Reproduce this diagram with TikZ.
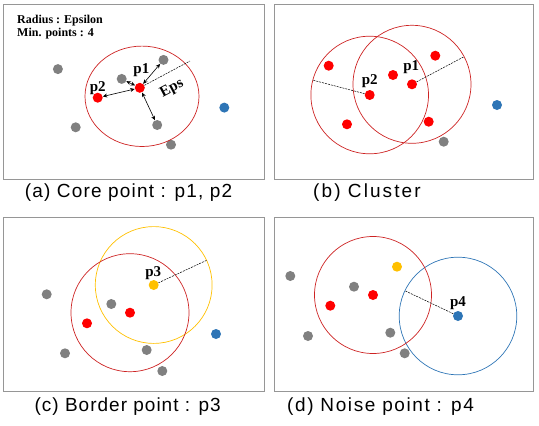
\documentclass[tikz,border=0pt]{standalone}
\usepackage{fontspec}
\setmainfont{Liberation Serif}
\setsansfont{Liberation Sans}
\usetikzlibrary{arrows.meta}

\definecolor{ptred}{RGB}{255,0,0}
\definecolor{ptgray}{RGB}{128,128,128}
\definecolor{ptblue}{RGB}{46,117,182}
\definecolor{ptyellow}{RGB}{255,192,0}
\definecolor{ringred}{RGB}{205,35,35}
\definecolor{framegray}{RGB}{150,150,150}

\tikzset{
  dot/.style={circle,inner sep=0pt,minimum size=10pt},
  rdot/.style={dot,fill=ptred},
  gdot/.style={dot,fill=ptgray},
  bdot/.style={dot,fill=ptblue},
  ydot/.style={dot,fill=ptyellow},
  ring/.style={line width=0.7pt},
  epsline/.style={dash pattern=on 2pt off 1pt,line width=0.5pt},
  link/.style={{Stealth[length=4.5pt,width=4pt]}-{Stealth[length=4.5pt,width=4pt]},line width=0.6pt},
  lbl/.style={font=\fontsize{15}{15}\selectfont\bfseries,inner sep=0pt},
  note/.style={anchor=west,font=\fontsize{12}{12}\selectfont\bfseries,inner sep=0pt},
  panel/.style={draw=framegray,line width=1pt},
  subcap/.style={anchor=west,inner sep=0pt,
    font=\sffamily\fontsize{19}{19}\selectfont\addfontfeature{LetterSpace=#1}},
  subcap/.default=6
}

\begin{document}
\begin{tikzpicture}[x=1pt,y=-1pt]
  \useasboundingbox (0,0) rectangle (539,426);
  % frames
  \draw[panel] (3.5,4.5) rectangle (264,179);
  \draw[panel] (274,4.5) rectangle (533.5,179);
  \draw[panel] (3.5,217) rectangle (264,391);
  \draw[panel] (274,217) rectangle (533.5,391);

  % (a) core point
  \node[note] (rad) at (17,20.4) {Radius : Epsilon};
  \node[note] (minpts) at (17,33.9) {Min. points : 4};
  \foreach \n/\x/\y in {a1/57.9/69.1, a2/121.7/78.9, a3/163.5/59.9,
                        a4/157.2/125, a5/75.7/127.3, a6/171/144.7} {
    \node[gdot] (\n) at (\x,\y) {};
  };
  \node[rdot] (ap1) at (139.8,87.8) {};
  \node[rdot] (ap2) at (97.7,97.7) {};
  \node[bdot] (ab) at (224.3,107.6) {};
  \draw[ring,ringred] (142,96.3) ellipse [x radius=57, y radius=50.2];
  \coordinate (ae) at (190,61);
  \draw[epsline] (ap1) -- (ae);
  \foreach \j in {ap2, a2, a3, a4} {
    \draw[link] (ap1) -- (\j);
  };
  \node[lbl] (ap1l) at (141.4,70.5) {p1};
  \node[lbl] (ap2l) at (97.7,88) {p2};
  \node[lbl,rotate=28] (aeps) at (172,89) {Eps};

  % (b) cluster
  \foreach \n/\x/\y in {b3/328.7/65.7, b4/393/75, b5/435.3/55.7,
                        b6/347/124.3, b7/428.7/121.7} {
    \node[rdot] (\n) at (\x,\y) {};
  };
  \node[rdot] (bp1) at (412,84.3) {};
  \node[rdot] (bp2) at (369.7,95) {};
  \node[gdot] (bg) at (443.7,141.7) {};
  \node[bdot] (bb) at (497,105) {};
  \draw[ring,ringred] (bp2) circle [radius=58.8];
  \draw[ring,ringred] (bp1) circle [radius=59];
  \coordinate (be1) at (464,56.7);
  \coordinate (be2) at (312.3,80);
  \draw[epsline] (bp1) -- (be1);
  \draw[epsline] (bp2) -- (be2);
  \node[lbl] (bp1l) at (411.3,66.7) {p1};
  \node[lbl] (bp2l) at (369.7,80.7) {p2};

  % (c) border point
  \foreach \n/\x/\y in {c3/46.7/294.3, c4/111.3/304, c5/65/353.3,
                        c6/146.7/350, c7/162.3/371} {
    \node[gdot] (\n) at (\x,\y) {};
  };
  \node[ydot] (cp3) at (153.7,285) {};
  \node[rdot] (cc) at (130,312.7) {};
  \node[rdot] (c2) at (87,323.3) {};
  \node[bdot] (cb) at (216,334) {};
  \draw[ring,ptyellow] (cp3) circle [radius=58.4];
  \draw[ring,ringred] (cc) circle [radius=59];
  \coordinate (ce) at (207.3,260);
  \draw[epsline] (cp3) -- (ce);
  \node[lbl] (cp3l) at (153.3,273.3) {p3};

  % (d) noise point
  \foreach \n/\x/\y in {d3/290.3/276, d4/354/286.7, d5/308/336,
                        d6/390.3/332.7, d7/404.7/353.3} {
    \node[gdot] (\n) at (\x,\y) {};
  };
  \node[bdot] (dp4) at (458,316) {};
  \node[rdot] (dc) at (373,295) {};
  \node[rdot] (d2) at (330.3,305.7) {};
  \node[ydot] (dy) at (397,266.7) {};
  \draw[ring,ptblue] (dp4) circle [radius=58.8];
  \draw[ring,ringred] (dc) circle [radius=58.5];
  \coordinate (de) at (405.5,291);
  \draw[epsline] (dp4) -- (de);
  \node[lbl] (dp4l) at (458,302.7) {p4};

  % captions
  \node[subcap=6.3] (capa) at (24.7,193) {(a) Core point : p1, p2};
  \node[subcap=11] (capb) at (313,193) {(b) Cluster};
  \node[subcap=5.3] (capc) at (34.4,407) {(c) Border point : p3};
  \node[subcap=8.4] (capd) at (287,407) {(d) Noise point : p4};
\end{tikzpicture}
\end{document}
